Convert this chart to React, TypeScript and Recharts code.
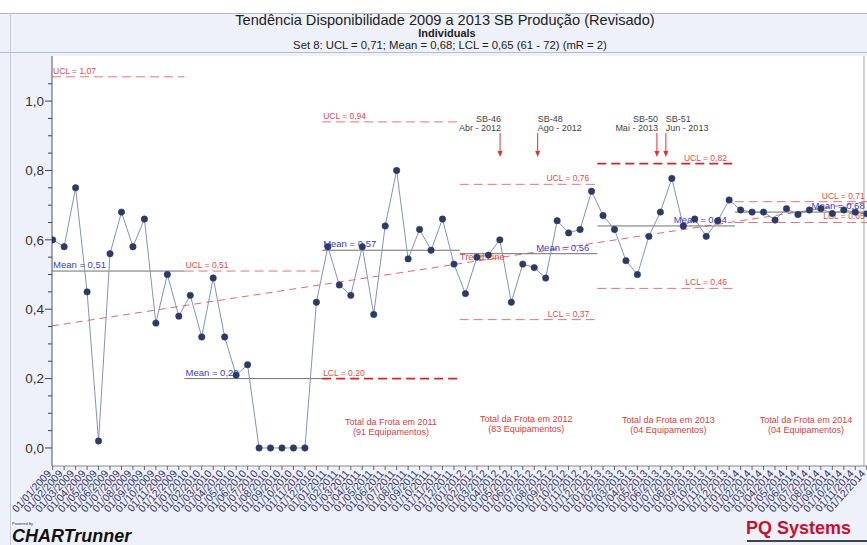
import React from "react";
import {
  LineChart,
  Line,
  XAxis,
  YAxis,
  ReferenceLine,
  ReferenceDot,
  ReferenceArea,
} from "recharts";

const years = ["2009", "2010", "2011", "2012", "2013", "2014"];
const months = ["01", "02", "03", "04", "05", "06", "07", "08", "09", "10", "11", "12"];
const dateLabels = years.flatMap((y) => months.map((m) => `01/${m}/${y}`));

// disponibilidade mensal (Individuals)
const availability = [
  0.6, 0.58, 0.75, 0.45, 0.02, 0.56, 0.68, 0.58, 0.66, 0.36, 0.5, 0.38,
  0.44, 0.32, 0.49, 0.32, 0.21, 0.24, 0, 0, 0, 0, 0, 0.42,
  0.58, 0.47, 0.44, 0.58, 0.385, 0.64, 0.8, 0.545, 0.63, 0.57, 0.66, 0.53,
  0.445, 0.55, 0.556, 0.6, 0.42, 0.53, 0.52, 0.49, 0.655, 0.62, 0.63, 0.74,
  0.67, 0.63, 0.54, 0.5, 0.61, 0.68, 0.777, 0.64, 0.66, 0.61, 0.655, 0.715,
  0.686, 0.68, 0.68, 0.657, 0.69, 0.673, 0.686, 0.69, 0.676, 0.686, 0.68, 0.675,
];

const X_MIN = -0.06;
const X_MAX = 71.52;
const Y_MIN = -0.052;
const Y_MAX = 1.13;

// control limit sets (point index ranges)
const setFrom = [X_MIN, 11.5, 23.5, 35.5, 47.5, 59.5];
const setTo = [11.5, 23.5, 35.5, 47.5, 59.5, X_MAX];
const setMean = [0.51, 0.2, 0.57, 0.56, 0.64, 0.68];
const setUcl = [1.07, 0.51, 0.94, 0.76, 0.82, 0.71];
const setLcl: (number | null)[] = [null, null, 0.2, 0.37, 0.46, 0.65];

// trend line end values
const trendStart = 0.352;
const trendEnd = 0.713;

// equipment events
const eventCodes = ["SB-46", "SB-48", "SB-50", "SB-51"];
const eventMonths = ["Abr - 2012", "Ago - 2012", "Mai - 2013", "Jun - 2013"];
const eventAt = [39.02, 42.3, 52.7, 53.48];
const eventTop = 0.908;

// fleet notes
const noteYears = ["2011", "2012", "2013", "2014"];
const noteCounts = ["91", "83", "04", "04"];
const noteAt = [29.5, 41.3, 53.7, 65.7];
const noteLevel = [0.066, 0.075, 0.072, 0.072];

const yTicks = [
  0, 0.05, 0.1, 0.15, 0.2, 0.25, 0.3, 0.35, 0.4, 0.45, 0.5, 0.55, 0.6, 0.65,
  0.7, 0.75, 0.8, 0.85, 0.9, 0.95, 1.0, 1.05,
];

const data = availability.map((v, i) => ({ idx: i, v }));
const xTicks = data.map((d) => d.idx);

const FONT = "'Liberation Sans', Arial, sans-serif";
const RED = "#e04a4a";
const BLUE = "#3b3bcc";

const fmt = (v: number) => v.toFixed(2).replace(".", ",");

const XTick = (props: any) => {
  const { x, y, payload } = props;
  const tx = x - 3;
  return (
    <text
      x={tx}
      y={y}
      transform={`rotate(-48 ${tx} ${y})`}
      textAnchor="end"
      dy={3}
      fontSize={10.5}
      fontFamily={FONT}
      fill="#34346e"
    >
      {dateLabels[payload.value]}
    </text>
  );
};

const YTick = (props: any) => {
  const { x, y, payload } = props;
  const v = payload.value as number;
  const major = Math.abs(v * 5 - Math.round(v * 5)) < 1e-6;
  return (
    <g>
      <line x1={x + (major ? 0 : 3)} x2={x + 7} y1={y} y2={y} stroke="#444" />
      {major && (
        <text
          x={x - 1}
          y={y}
          dy="0.35em"
          textAnchor="end"
          fontSize={13.5}
          fontFamily={FONT}
          fill="#333"
        >
          {v.toFixed(1).replace(".", ",")}
        </text>
      )}
    </g>
  );
};

const limitLabel =
  (text: string, color: string, size: number, alignEnd: boolean) => (p: any) =>
    (
      <text
        x={alignEnd ? p.cx - 8 : p.cx + 1}
        y={p.cy - 3}
        textAnchor={alignEnd ? "end" : "start"}
        fontSize={size}
        fontFamily={FONT}
        fill={color}
      >
        {text}
      </text>
    );

export default function App() {
  const limitLines: React.ReactNode[] = [];
  setMean.forEach((m, i) => {
    const alignEnd = i >= 3;
    const at = alignEnd ? setTo[i] : setFrom[i];
    limitLines.push(
      <ReferenceLine
        key={`m${i}`}
        segment={[{ x: setFrom[i], y: m }, { x: setTo[i], y: m }]}
        stroke="#707070"
        strokeWidth={1}
        ifOverflow="visible"
      />
    );
    const bounds: [string, number | null][] = [
      ["UCL", setUcl[i]],
      ["LCL", setLcl[i]],
    ];
    bounds.forEach(([name, val]) => {
      if (val == null) return;
      const strong = (i === 2 && name === "LCL") || (i === 4 && name === "UCL");
      limitLines.push(
        <ReferenceLine
          key={`${name}${i}`}
          segment={[{ x: setFrom[i], y: val }, { x: setTo[i], y: val }]}
          stroke={strong ? "#d42626" : "#e87474"}
          strokeWidth={strong ? 1.7 : 1}
          strokeDasharray="9 5"
          ifOverflow="visible"
        />
      );
      limitLines.push(
        <ReferenceDot
          key={`${name}l${i}`}
          x={at}
          y={val}
          r={1}
          ifOverflow="visible"
          shape={limitLabel(`${name} = ${fmt(val)}`, RED, 8.5, alignEnd)}
        />
      );
    });
    limitLines.push(
      <ReferenceDot
        key={`ml${i}`}
        x={at}
        y={m}
        r={1}
        ifOverflow="visible"
        shape={limitLabel(`Mean = ${fmt(m)}`, BLUE, 9.5, alignEnd)}
      />
    );
  });

  return (
    <div
      style={{
        position: "absolute",
        left: 0,
        top: 0,
        width: 867,
        height: 545,
        overflow: "hidden",
        background: "#eef1f9",
        fontFamily: FONT,
      }}
    >
      <div style={{ position: "absolute", left: 0, top: 0, width: 867, height: 13, background: "#fff", borderBottom: "1px solid #b4bccb" }} />
      <div style={{ position: "absolute", left: 0, top: 52, width: 867, height: 1, background: "#b4bccb" }} />
      <div style={{ position: "absolute", left: 10, top: 13, width: 1, height: 532, background: "#c3cbdb" }} />

      <div style={{ position: "absolute", left: 445, top: 13, transform: "translateX(-50%)", whiteSpace: "nowrap", fontSize: 14.6, lineHeight: "15px", color: "#222" }}>
        Tendência Disponibilidade 2009 a 2013 SB Produção (Revisado)
      </div>
      <div style={{ position: "absolute", left: 447, top: 28, transform: "translateX(-50%)", whiteSpace: "nowrap", fontSize: 11, fontWeight: "bold", lineHeight: "11px", color: "#222" }}>
        Individuals
      </div>
      <div style={{ position: "absolute", left: 450, top: 39, transform: "translateX(-50%)", whiteSpace: "nowrap", fontSize: 11.3, lineHeight: "12px", color: "#222" }}>
        Set 8: UCL = 0,71; Mean = 0,68; LCL = 0,65 (61 - 72) (mR = 2)
      </div>

      <div style={{ position: "absolute", left: 0, top: 0 }}>
        <LineChart
          width={880}
          height={545}
          data={data}
          margin={{ top: 56, right: 7.3, bottom: 19, left: 0 }}
        >
          <ReferenceArea
            x1={X_MIN}
            x2={X_MAX}
            y1={Y_MIN}
            y2={Y_MAX}
            fill="#ffffff"
            fillOpacity={1}
            ifOverflow="visible"
          />
          <XAxis
            dataKey="idx"
            type="number"
            domain={[X_MIN, X_MAX]}
            ticks={xTicks}
            interval={0}
            allowDataOverflow
            height={60}
            tickSize={4}
            tickLine={{ stroke: "#666" }}
            axisLine={{ stroke: "#8a8a8a" }}
            tick={<XTick />}
          />
          <YAxis
            type="number"
            domain={[Y_MIN, Y_MAX]}
            ticks={yTicks}
            interval={0}
            allowDataOverflow
            width={52}
            tickSize={7}
            tickMargin={0}
            tickLine={false}
            axisLine={{ stroke: "#555" }}
            tick={<YTick />}
          />
          <ReferenceLine x={70.76} stroke="#a8a8a8" ifOverflow="visible" />
          <ReferenceLine
            segment={[{ x: X_MIN, y: trendStart }, { x: X_MAX, y: trendEnd }]}
            stroke="#e06a6a"
            strokeDasharray="7 5"
            ifOverflow="visible"
          />
          {limitLines}
          <ReferenceDot
            x={35.5}
            y={0.542}
            r={1}
            ifOverflow="visible"
            shape={(p: any) => (
              <text x={p.cx} y={p.cy} fontSize={9.5} fontFamily={FONT} fill={RED}>
                Trend Line
              </text>
            )}
          />
          {eventCodes.map((code, i) => (
            <ReferenceDot
              key={code}
              x={eventAt[i]}
              y={eventTop}
              r={1}
              ifOverflow="visible"
              shape={(p: any) => {
                const anchor = i % 2 === 0 ? "end" : "start";
                const tx = i % 2 === 0 ? p.cx + 1 : p.cx;
                return (
                  <g>
                    <text x={tx} y={p.cy - 11} textAnchor={anchor} fontSize={9} fontFamily={FONT} fill="#444">
                      {code}
                    </text>
                    <text x={tx} y={p.cy - 2} textAnchor={anchor} fontSize={9} fontFamily={FONT} fill="#444">
                      {eventMonths[i]}
                    </text>
                    <line x1={p.cx} x2={p.cx} y1={p.cy} y2={p.cy + 20} stroke="#e03030" />
                    <path d={`M${p.cx - 2.5},${p.cy + 18} L${p.cx + 2.5},${p.cy + 18} L${p.cx},${p.cy + 24} Z`} fill="#e03030" />
                  </g>
                );
              }}
            />
          ))}
          {noteYears.map((yr, i) => (
            <ReferenceDot
              key={yr}
              x={noteAt[i]}
              y={noteLevel[i]}
              r={1}
              ifOverflow="visible"
              shape={(p: any) => (
                <g>
                  <text x={p.cx} y={p.cy} textAnchor="middle" fontSize={9} fontFamily={FONT} fill="#d83c3c">
                    {`Total da Frota em ${yr}`}
                  </text>
                  <text x={p.cx} y={p.cy + 10} textAnchor="middle" fontSize={9} fontFamily={FONT} fill="#d83c3c">
                    {`(${noteCounts[i]} Equipamentos)`}
                  </text>
                </g>
              )}
            />
          ))}
          <Line
            dataKey="v"
            type="linear"
            stroke="#8393b6"
            strokeWidth={1}
            dot={{ r: 3.2, fill: "#2c3a66", stroke: "#2c3a66", strokeWidth: 0.6 }}
            activeDot={false}
            isAnimationActive={false}
          />
        </LineChart>
      </div>

      <div style={{ position: "absolute", left: 12, top: 521, fontSize: 4, color: "#333" }}>Powered by</div>
      <div style={{ position: "absolute", left: 12, top: 527, fontSize: 18, lineHeight: "18px", fontWeight: "bold", fontStyle: "italic", color: "#111" }}>
        CHARTrunner
      </div>
      <div style={{ position: "absolute", left: 746, top: 519, fontSize: 18, lineHeight: "18px", fontWeight: "bold", color: "#c8102e" }}>
        PQ Systems
      </div>
      <div style={{ position: "absolute", left: 747, top: 540, width: 120, height: 2, background: "#444" }} />
    </div>
  );
}
